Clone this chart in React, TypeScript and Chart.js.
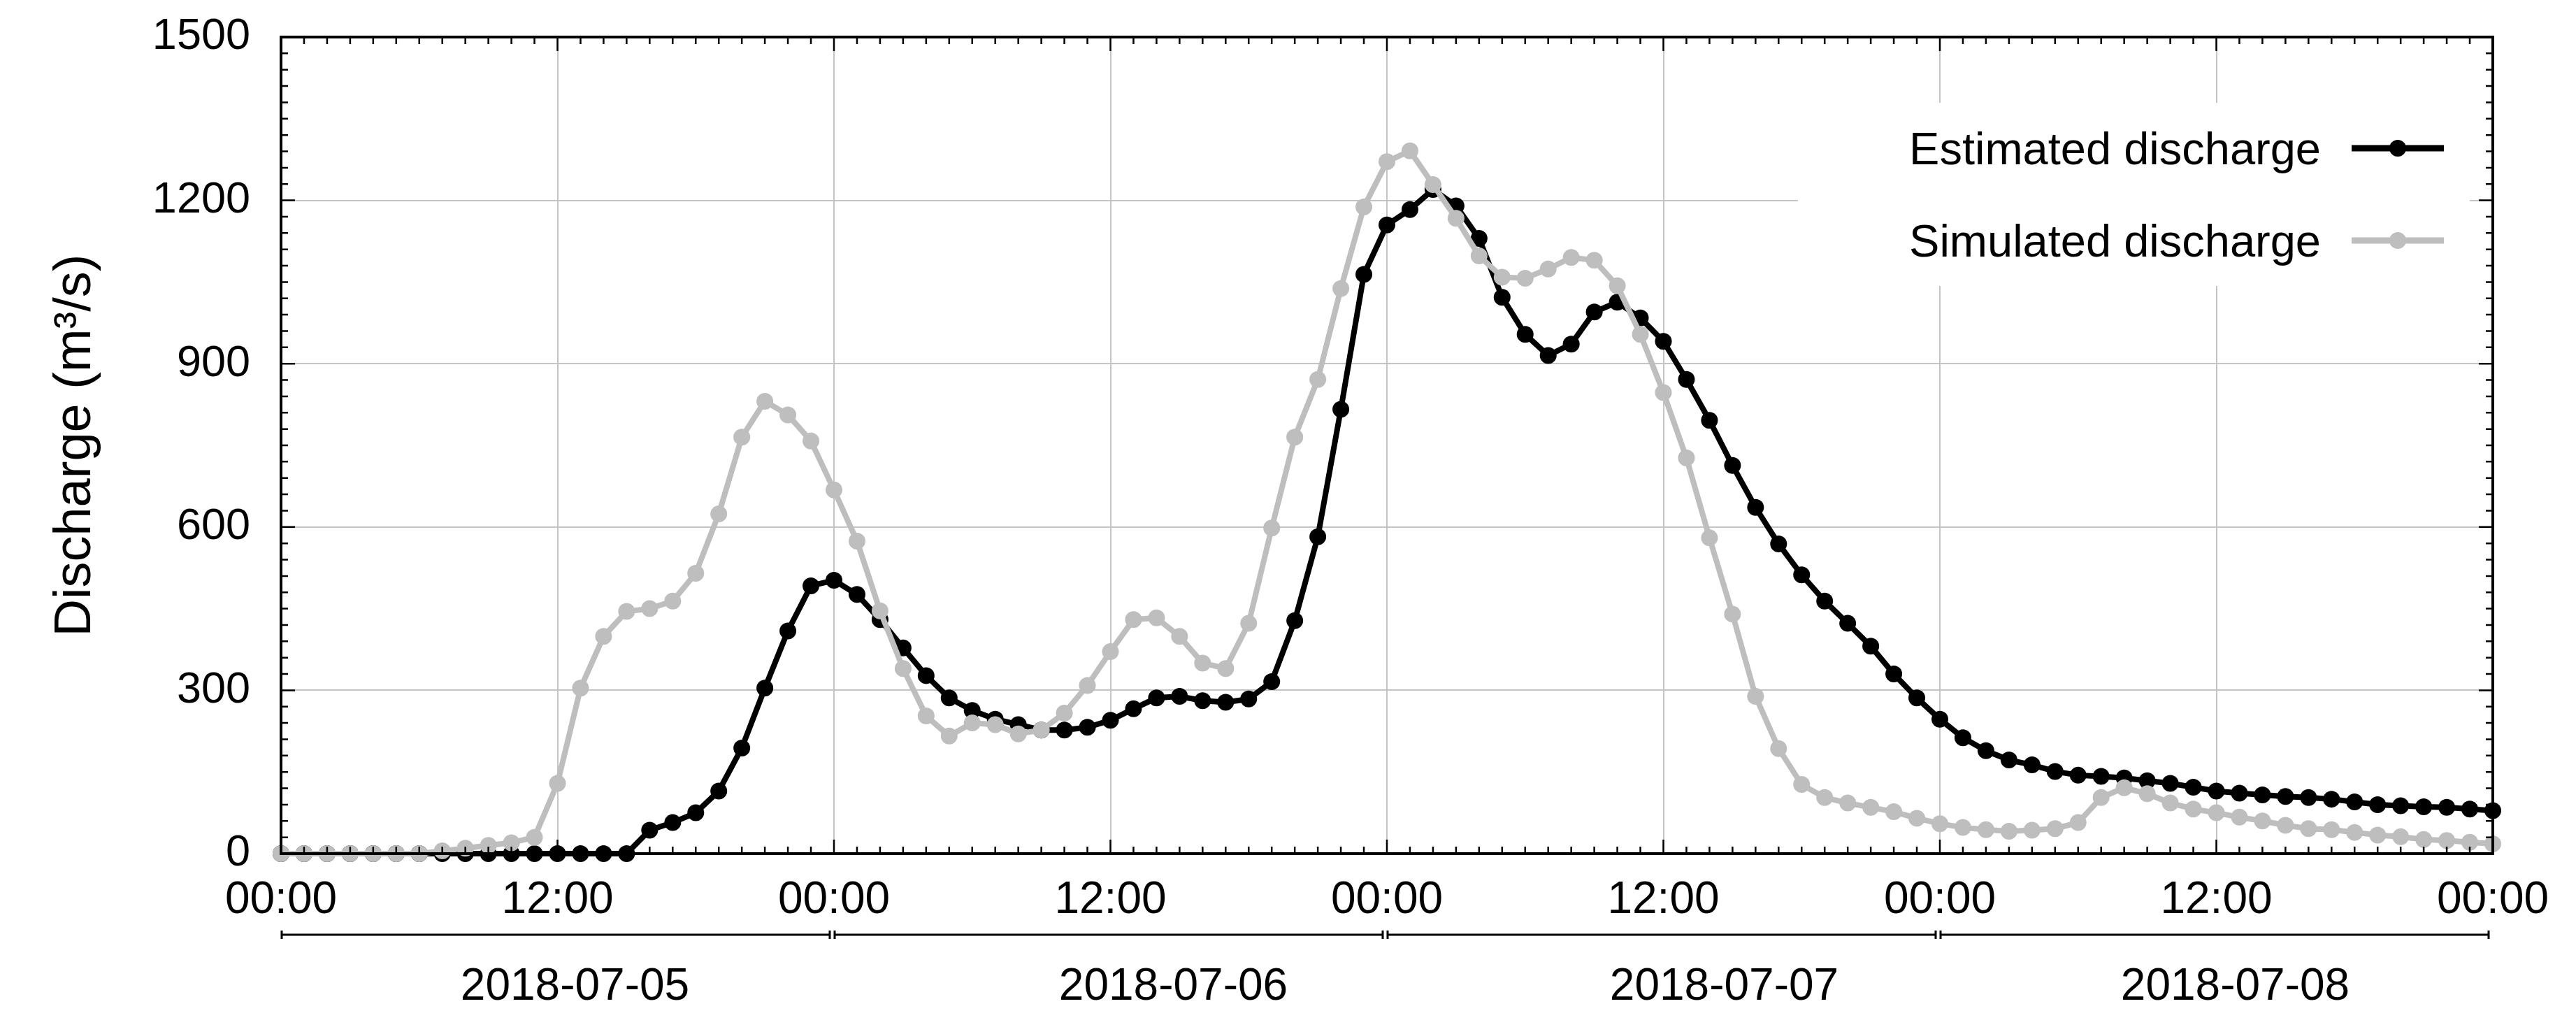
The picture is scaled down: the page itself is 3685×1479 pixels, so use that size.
import React, { useEffect, useRef } from "react";
import { Chart, registerables } from "chart.js";

Chart.register(...registerables);

// Hours since 2018-07-05 00:00 (hourly samples)
const HOURS: number[] = Array.from({ length: 97 }, (_, i) => i);

const DAY_LABELS = ["2018-07-05", "2018-07-06", "2018-07-07", "2018-07-08"];

const ESTIMATED: number[] = [
  0, 0, 0, 0, 0, 0, 0, 0, 0, 0, 0, 0, 0, 0, 0, 0,
  43, 57, 75, 115, 194, 304, 409, 492, 502, 476, 430, 378, 327, 286, 263, 247,
  237, 227, 227, 232, 245, 266, 286, 289, 281, 278, 284, 316, 428, 582, 816, 1064,
  1155, 1183, 1220, 1190, 1130, 1022, 954, 915, 936, 995, 1013, 984, 941, 871, 796, 713,
  636, 569, 512, 464, 423, 381, 330, 286, 247, 213, 189, 172, 163, 151, 144, 142,
  139, 134, 129, 122, 115, 111, 108, 105, 103, 100, 95, 90, 88, 86, 85, 82, 79,
];

const SIMULATED: number[] = [
  0, 0, 0, 0, 0, 0, 0, 5, 10, 15, 20, 30, 129, 304, 399, 445,
  450, 464, 515, 624, 765, 831, 806, 758, 668, 574, 446, 340, 253, 216, 240, 237,
  220, 227, 258, 309, 371, 430, 433, 399, 350, 340, 423, 598, 765, 871, 1038, 1188,
  1271, 1291, 1229, 1167, 1098, 1059, 1057, 1074, 1095, 1090, 1043, 954, 847, 727, 580, 440,
  289, 193, 127, 103, 93, 85, 77, 65, 55, 48, 44, 41, 43, 46, 57, 103,
  121, 110, 93, 82, 75, 67, 60, 52, 46, 44, 39, 34, 31, 26, 24, 21, 18,
];

const BLACK = "#000000";
const GRAY = "#bebebe";
const FONT = "'Liberation Sans', Arial, sans-serif";

const framePlugin = {
  id: "gnuplotFrame",
  afterDraw(chart: any) {
    const { ctx, chartArea, scales } = chart;
    const { left, right, top, bottom } = chartArea;
    const xs = scales.x;
    const ys = scales.y;
    ctx.save();

    // Legend (opaque box)
    ctx.fillStyle = "#ffffff";
    ctx.fillRect(2572, 147, 3533 - 2572, 409 - 147);
    const legendOrder = [0, 1];
    legendOrder.forEach((di, row) => {
      const ds = chart.data.datasets[di];
      const base = 235 + row * 132;
      const cy = 212 + row * 132;
      ctx.font = `65px ${FONT}`;
      ctx.fillStyle = "#000";
      ctx.textAlign = "right";
      ctx.textBaseline = "alphabetic";
      ctx.fillText(ds.label, 3320, base);
      ctx.strokeStyle = ds.borderColor;
      ctx.lineWidth = 9;
      ctx.beginPath();
      ctx.moveTo(3364, cy);
      ctx.lineTo(3496, cy);
      ctx.stroke();
      ctx.fillStyle = ds.borderColor;
      ctx.beginPath();
      ctx.arc(3430, cy, 12, 0, Math.PI * 2);
      ctx.fill();
    });

    // Tick marks (inward, mirrored)
    ctx.strokeStyle = "#000";
    ctx.lineWidth = 2.5;
    ctx.beginPath();
    for (let h = 0; h <= 96; h++) {
      const px = xs.getPixelForValue(h);
      const len = h % 12 === 0 ? 20 : 10;
      ctx.moveTo(px, bottom);
      ctx.lineTo(px, bottom - len);
      ctx.moveTo(px, top);
      ctx.lineTo(px, top + len);
    }
    for (let v = 0; v <= 1500; v += 30) {
      const py = ys.getPixelForValue(v);
      const len = v % 300 === 0 ? 20 : 10;
      ctx.moveTo(left, py);
      ctx.lineTo(left + len, py);
      ctx.moveTo(right, py);
      ctx.lineTo(right - len, py);
    }
    ctx.stroke();

    // Border
    ctx.lineWidth = 4;
    ctx.strokeRect(left, top, right - left, bottom - top);

    // Day brackets and date labels
    const labelShift = [25, 90, 87, 27];
    const by = 1337;
    ctx.lineWidth = 3;
    DAY_LABELS.forEach((lab, d) => {
      const x0 = xs.getPixelForValue(d * 24) + 1;
      const x1 = xs.getPixelForValue((d + 1) * 24) - 6;
      ctx.beginPath();
      ctx.moveTo(x0, by);
      ctx.lineTo(x1, by);
      ctx.moveTo(x0, by - 6);
      ctx.lineTo(x0, by + 6);
      ctx.moveTo(x1, by - 6);
      ctx.lineTo(x1, by + 6);
      ctx.stroke();
      const cx = xs.getPixelForValue(d * 24 + 12) + labelShift[d];
      ctx.font = `64px ${FONT}`;
      ctx.fillStyle = "#000";
      ctx.textAlign = "center";
      ctx.textBaseline = "alphabetic";
      ctx.fillText(lab, cx, 1430);
    });
    ctx.restore();
  },
};

export default function App() {
  const ref = useRef<HTMLCanvasElement | null>(null);
  useEffect(() => {
    if (!ref.current) return;
    const chart = new Chart(ref.current, {
      type: "line",
      data: {
        labels: HOURS,
        datasets: [
          {
            label: "Estimated discharge",
            data: ESTIMATED,
            borderColor: BLACK,
            backgroundColor: BLACK,
            pointBackgroundColor: BLACK,
            pointBorderColor: BLACK,
            borderWidth: 8,
            pointRadius: 12,
            pointBorderWidth: 0,
            order: 1,
            clip: false,
            tension: 0,
          },
          {
            label: "Simulated discharge",
            data: SIMULATED,
            borderColor: GRAY,
            backgroundColor: GRAY,
            pointBackgroundColor: GRAY,
            pointBorderColor: GRAY,
            borderWidth: 8,
            pointRadius: 12,
            pointBorderWidth: 0,
            order: 0,
            clip: false,
            tension: 0,
          },
        ],
      },
      options: {
        responsive: false,
        animation: false,
        events: [],
        layout: { padding: { top: 53, right: 119, left: 0, bottom: 0 } },
        plugins: {
          legend: { display: false },
          tooltip: { enabled: false },
        },
        scales: {
          x: {
            type: "linear",
            min: 0,
            max: 96,
            ticks: {
              stepSize: 12,
              autoSkip: false,
              maxRotation: 0,
              padding: 29,
              color: "#000",
              font: { family: FONT, size: 64 },
              callback: (v: any) => (Number(v) % 24 === 0 ? "00:00" : "12:00"),
            },
            grid: { color: "#c4c4c4", lineWidth: 2, drawTicks: false },
            border: { display: false },
            afterFit: (s: any) => {
              s.height = 258;
              s.paddingLeft = 0;
              s.paddingRight = 0;
            },
          },
          y: {
            min: 0,
            max: 1500,
            ticks: {
              stepSize: 300,
              padding: 44,
              color: "#000",
              font: { family: FONT, size: 63 },
              callback: (v: any) => String(v),
            },
            grid: { color: "#c4c4c4", lineWidth: 2, drawTicks: false },
            border: { display: false },
            title: {
              display: true,
              text: "Discharge (m³/s)",
              color: "#000",
              font: { family: FONT, size: 74 },
              padding: { top: 64, bottom: 0 },
            },
            afterFit: (s: any) => {
              s.width = 402;
              s.paddingTop = 0;
              s.paddingBottom = 0;
            },
          },
        },
      },
      plugins: [framePlugin],
    });
    return () => chart.destroy();
  }, []);
  return (
    <div style={{ position: "absolute", left: 0, top: 0, width: 3685, height: 1479, background: "#fff" }}>
      <canvas ref={ref} width={3685} height={1479} style={{ display: "block" }} />
    </div>
  );
}
